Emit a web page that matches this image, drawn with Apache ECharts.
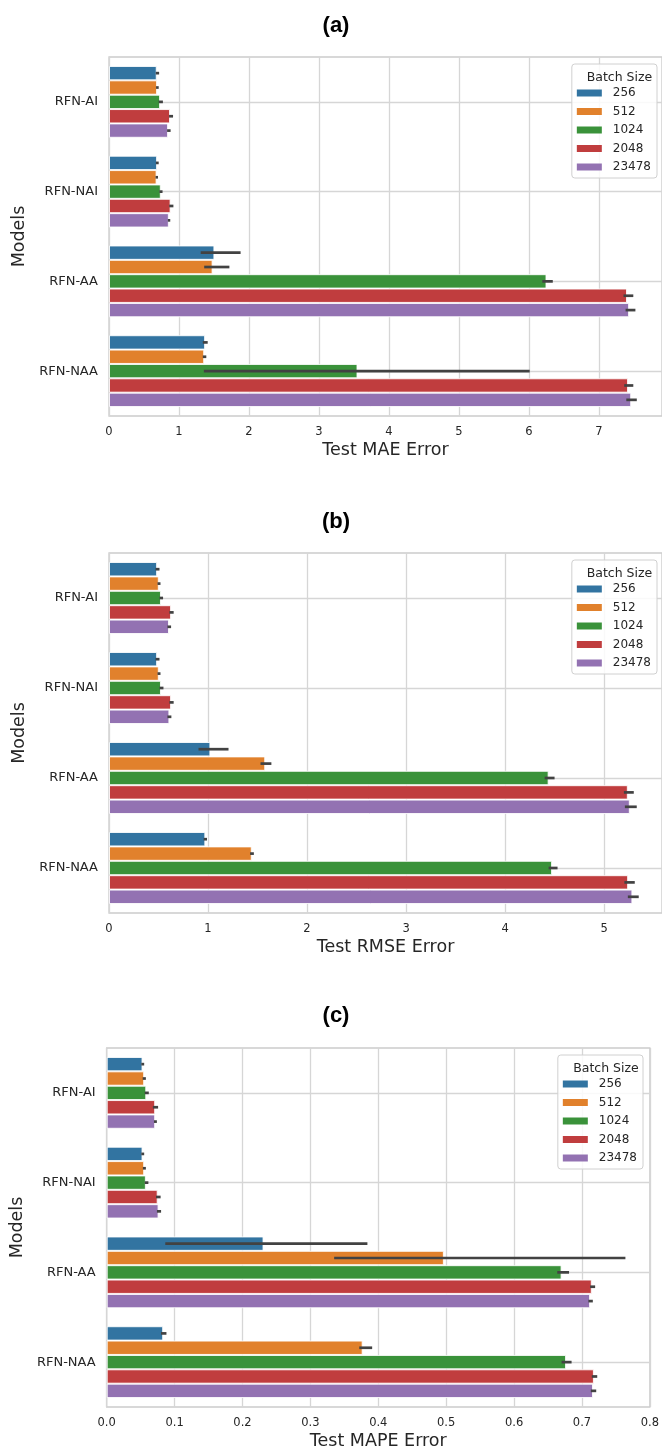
<!DOCTYPE html>
<html>
<head>
<meta charset="utf-8">
<script src="https://cdn.jsdelivr.net/npm/echarts@6/dist/echarts.min.js"></script>
<style>
html,body{margin:0;padding:0;background:#fff;}
#chart{width:662px;height:1452px;}
</style>
</head>
<body>
<div id="chart"></div>
<script>
// ---------- data ----------
const categories = ['RFN-AI', 'RFN-NAI', 'RFN-AA', 'RFN-NAA'];
const batchSizes = ['256', '512', '1024', '2048', '23478'];
const batchColors = ['#3274a1', '#e1812c', '#3a923a', '#c03d3e', '#9372b2'];

// rows = batch size, columns = categories
const maeMean = [
  [0.682, 0.687, 1.506, 1.373],
  [0.687, 0.680, 1.480, 1.360],
  [0.730, 0.740, 6.250, 3.550],
  [0.872, 0.880, 7.400, 7.415],
  [0.844, 0.855, 7.430, 7.460]
];
const maeLow = [
  [0.668, 0.670, 1.310, 1.340],
  [0.672, 0.665, 1.360, 1.340],
  [0.710, 0.720, 6.190, 1.355],
  [0.858, 0.860, 7.350, 7.360],
  [0.830, 0.840, 7.380, 7.390]
];
const maeHigh = [
  [0.716, 0.710, 1.880, 1.410],
  [0.710, 0.700, 1.720, 1.390],
  [0.770, 0.765, 6.340, 6.010],
  [0.915, 0.920, 7.490, 7.490],
  [0.880, 0.875, 7.520, 7.540]
];

const rmseMean = [
  [0.486, 0.486, 1.024, 0.973],
  [0.503, 0.503, 1.578, 1.442],
  [0.525, 0.525, 4.440, 4.475],
  [0.627, 0.627, 5.240, 5.243],
  [0.606, 0.610, 5.260, 5.286]
];
const rmseLow = [
  [0.470, 0.470, 0.904, 0.956],
  [0.490, 0.490, 1.530, 1.425],
  [0.510, 0.510, 4.400, 4.440],
  [0.610, 0.610, 5.200, 5.205],
  [0.590, 0.590, 5.210, 5.240]
];
const rmseHigh = [
  [0.510, 0.510, 1.207, 0.990],
  [0.520, 0.520, 1.640, 1.463],
  [0.546, 0.550, 4.500, 4.530],
  [0.653, 0.653, 5.300, 5.310],
  [0.627, 0.630, 5.330, 5.350]
];

const mapeMean = [
  [0.0528, 0.0528, 0.2310, 0.0832],
  [0.0552, 0.0552, 0.4966, 0.3770],
  [0.0583, 0.0577, 0.6700, 0.6766],
  [0.0714, 0.0751, 0.7145, 0.7176],
  [0.0714, 0.0764, 0.7120, 0.7163]
];
const mapeLow = [
  [0.0510, 0.0510, 0.0863, 0.0800],
  [0.0530, 0.0533, 0.3350, 0.3720],
  [0.0560, 0.0560, 0.6636, 0.6700],
  [0.0680, 0.0726, 0.7120, 0.7145],
  [0.0696, 0.0740, 0.7095, 0.7130]
];
const mapeHigh = [
  [0.0552, 0.0552, 0.3840, 0.0880],
  [0.0577, 0.0577, 0.7640, 0.3910],
  [0.0620, 0.0614, 0.6810, 0.6847],
  [0.0757, 0.0794, 0.7194, 0.7225],
  [0.0739, 0.0801, 0.7160, 0.7210]
];

const panelLetters = ['(a)', '(b)', '(c)'];
const axisTitles = ['Test MAE Error', 'Test RMSE Error', 'Test MAPE Error'];
const xMax = [7.9, 5.585, 0.8];
const xInterval = [1, 1, 0.1];
const xTickDecimals = [0, 0, 1];

// ---------- layout ----------
const panels = [
  { mean: maeMean,  low: maeLow,  high: maeHigh,  grid: { left: 109, right: 0,  top: 57,   height: 359 }, legendRight: 5,  titleTop: 10,   boxCenter: 614.5 },
  { mean: rmseMean, low: rmseLow, high: rmseHigh, grid: { left: 109, right: 0,  top: 553,  height: 360 }, legendRight: 5,  titleTop: 506,  boxCenter: 614.5 },
  { mean: mapeMean, low: mapeLow, high: mapeHigh, grid: { left: 105, right: 12, top: 1048, height: 359 }, legendRight: 19, titleTop: 1000, boxCenter: 601 }
];

const FONT = 'DejaVu Sans';
const TXT = '#262626';
const GRIDC = '#d6d6d6';
const BAND_FRAC = 0.8;

const option = {
  backgroundColor: '#ffffff',
  animation: false,
  title: [],
  legend: [],
  grid: [],
  xAxis: [],
  yAxis: [],
  series: []
};

panels.forEach((p, k) => {
  option.grid.push(Object.assign({
    show: true, borderColor: '#cccccc', borderWidth: 1.3, backgroundColor: '#ffffff'
  }, p.grid));

  option.title.push({
    text: panelLetters[k], left: 331, top: p.titleTop, textAlign: 'center',
    textStyle: { fontFamily: 'Liberation Sans', fontWeight: 'bold', fontSize: 22, color: '#000' }
  });
  option.title.push({
    text: 'Batch Size', left: p.boxCenter, top: p.grid.top + 9, textAlign: 'center', z: 30, zlevel: 0,
    textStyle: { fontFamily: FONT, fontWeight: 'normal', fontSize: 12.5, color: TXT }
  });

  option.legend.push({
    orient: 'vertical', right: p.legendRight, top: p.grid.top + 7,
    data: batchSizes, icon: 'rect', itemWidth: 25, itemHeight: 7, itemGap: 6.5,
    itemStyle: { borderWidth: 0 },
    textStyle: { fontFamily: FONT, fontSize: 12, color: TXT, lineHeight: 12, padding: [0, 0, 0, 6] },
    padding: [23, 6, 5, 5], backgroundColor: 'rgba(255,255,255,0.85)',
    borderColor: '#d0d0d0', borderWidth: 1, borderRadius: 3, selectedMode: false, z: 10
  });

  option.xAxis.push({
    type: 'value', gridIndex: k, min: 0, max: xMax[k], interval: xInterval[k],
    axisLine: { show: false }, axisTick: { show: false },
    axisLabel: {
      fontFamily: FONT, fontSize: 11.5, color: TXT, margin: 10, showMaxLabel: k === 2,
      formatter: v => v.toFixed(xTickDecimals[k])
    },
    splitLine: { show: true, lineStyle: { color: GRIDC, width: 1.3 } },
    name: axisTitles[k], nameLocation: 'middle', nameGap: 25,
    nameTextStyle: { fontFamily: FONT, fontSize: 17.5, color: TXT }
  });

  option.yAxis.push({
    type: 'category', gridIndex: k, data: categories, inverse: true,
    axisLine: { show: false }, axisTick: { show: false },
    axisLabel: { fontFamily: FONT, fontSize: 13, color: TXT, margin: 11 },
    splitLine: { show: true, alignWithLabel: true, lineStyle: { color: GRIDC, width: 1.3 } },
    name: 'Models', nameLocation: 'middle', nameGap: 78, nameRotate: 90,
    nameTextStyle: { fontFamily: FONT, fontSize: 17.5, color: TXT }
  });

  batchSizes.forEach((b, i) => {
    option.series.push({
      name: b, type: 'bar', xAxisIndex: k, yAxisIndex: k,
      data: p.mean[i],
      barGap: '0%', barCategoryGap: '20%',
      itemStyle: { color: batchColors[i], borderColor: 'rgba(255,255,255,0.85)', borderWidth: 1 },
      z: 2
    });
  });

  batchSizes.forEach((b, i) => {
    const errData = categories.map((c, j) => [j, p.low[i][j], p.high[i][j]]);
    option.series.push({
      name: b + ' err', type: 'custom', xAxisIndex: k, yAxisIndex: k,
      data: errData, encode: { y: 0, x: [1, 2] }, z: 5, silent: true,
      renderItem: (params, api) => {
        const cat = api.value(0);
        const p1 = api.coord([api.value(1), cat]);
        const p2 = api.coord([api.value(2), cat]);
        const band = api.size([0, 1])[1];
        const bw = band * BAND_FRAC / batchSizes.length;
        const off = -band * BAND_FRAC / 2 + (i + 0.5) * bw;
        return {
          type: 'line',
          shape: { x1: p1[0], y1: p1[1] + off, x2: p2[0], y2: p2[1] + off },
          style: { stroke: '#424242', lineWidth: 2.7 }
        };
      }
    });
  });
});

const chart = echarts.init(document.getElementById('chart'), null, { renderer: 'canvas' });
chart.setOption(option);
</script>
</body>
</html>
